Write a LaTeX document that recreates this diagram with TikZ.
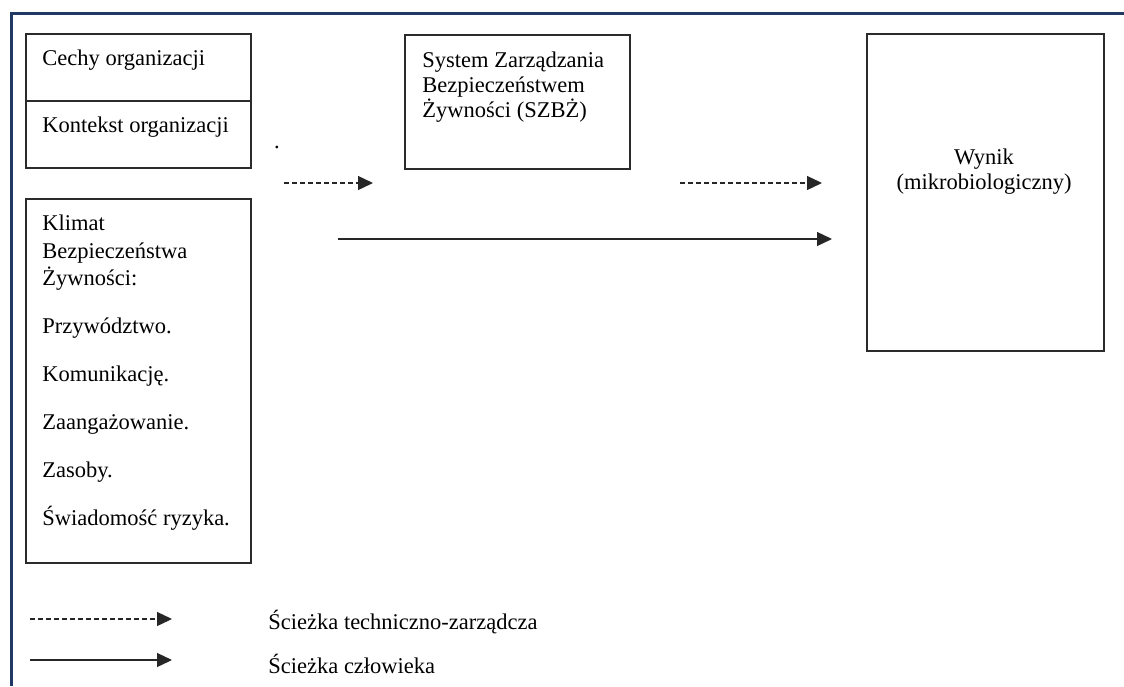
\documentclass[tikz,border=0pt]{standalone}
\usepackage{fontspec}
\setmainfont{Liberation Serif}
\usepackage{xcolor}
\usetikzlibrary{arrows.meta, positioning}
\definecolor{FrameBlue}{HTML}{1F3864}
\definecolor{BoxGrey}{HTML}{2B2B2B}

\begin{document}
\begin{tikzpicture}[x=0.5pt, y=-0.5pt, >={Triangle[length=7.5pt,width=7pt]}, font=\fontsize{11.25}{13.75}\selectfont]
    \tikzstyle{block} = [rectangle, draw=BoxGrey, line width=0.8pt, inner sep=0pt, anchor=north west, minimum width=112.5pt]
    \tikzstyle{txt} = [inner sep=0pt, align=left]
    \tikzstyle{line} = [draw, ->, line width=0.65pt, black!85]
    \tikzstyle{dline} = [line, dash pattern=on 2.5pt off 1.5pt]

    \useasboundingbox (0,0) rectangle (1124,686);
    \draw [FrameBlue, line width=1.5pt] (11,686) -- (11,13) -- (1124,13);

    % boxes
    \node [block, minimum height=33.5pt] (cechy) at (25,33) {};
    \node [block, minimum height=33.5pt] (kontekst) at (25,100) {};
    \node [block, minimum height=182pt] (klimat) at (25,198) {};
    \node [block, minimum height=67pt] (szbz) at (404,34) {};
    \node [block, minimum width=118.5pt, minimum height=158.5pt] (wynik) at (866,33) {};

    % texts
    \node [txt, anchor=base west] (cechyT) at (42,65) {Cechy organizacji};
    \node [txt, anchor=base west] (kontekstT) at (42,132) {Kontekst organizacji};
    \node [txt, anchor=north west] (klimatT) at (42,214.6) {Klimat\\Bezpieczeństwa\\Żywności:\\[10.25pt]Przywództwo.\\[10.25pt]Komunikację.\\[10.25pt]Zaangażowanie.\\[10.25pt]Zasoby.\\[10.25pt]Świadomość ryzyka.};
    \node [txt, anchor=north west, font=\fontsize{11.25}{12.5}\selectfont] (szbzT) at (422,51.6) {System Zarządzania\\Bezpieczeństwem\\Żywności (SZBŻ)};
    \node [txt, anchor=north, align=center, font=\fontsize{11.25}{12.5}\selectfont] (wynikT) at (984,148.6) {Wynik\\(mikrobiologiczny)};
    \node [txt, anchor=base] (kropka) at (277,148) {.};

    % arrows
    \coordinate (techA) at (284,183);
    \coordinate (techB) at (373,183);
    \coordinate (techC) at (680,183);
    \coordinate (techD) at (822,183);
    \coordinate (humA) at (338,239);
    \coordinate (humB) at (832,239);
    \path [dline] (techA) -- (techB);
    \path [dline] (techC) -- (techD);
    \path [line] (humA) -- (humB);

    % legend
    \coordinate (legTA) at (30,619);
    \coordinate (legTB) at (172,619);
    \coordinate (legHA) at (30,660);
    \coordinate (legHB) at (172,660);
    \path [dline] (legTA) -- (legTB);
    \path [line] (legHA) -- (legHB);
    \node [txt, anchor=base west] (legT) at (268,629) {Ścieżka techniczno-zarządcza};
    \node [txt, anchor=base west] (legH) at (268,673) {Ścieżka człowieka};
\end{tikzpicture}
\end{document}
